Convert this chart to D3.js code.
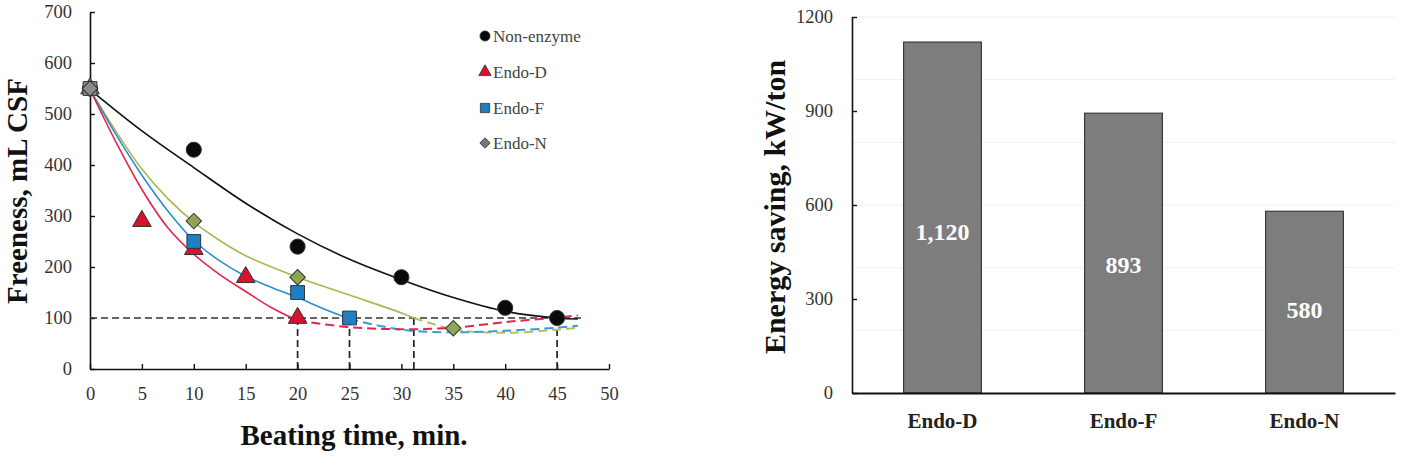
<!DOCTYPE html>
<html>
<head>
<meta charset="utf-8">
<script src="https://cdn.jsdelivr.net/npm/d3@7"></script>
<style>
  body { margin: 0; background: #fff; }
  svg text { font-family: "Liberation Serif", "Times New Roman", serif; }
</style>
</head>
<body>
<div id="chart"></div>
<script>
// freeness data (mL CSF) vs beating time (min)
var nonEnzymeTime = [0, 10, 20, 30, 40, 45],
  nonEnzymeFree = [550, 430, 240, 180, 120, 100];
var endoDTime = [0, 5, 10, 15, 20],
  endoDFree = [550, 290, 235, 180, 100];
var endoFTime = [0, 10, 20, 25],
  endoFFree = [550, 250, 150, 100];
var endoNTime = [0, 10, 20, 35],
  endoNFree = [550, 290, 180, 80];

// trend lines: [time, freeness]
var nonEnzymeFit = [[0, 548], [5, 467], [10, 395], [15, 325], [20, 265], [25, 215], [30, 175], [35, 140], [40, 113], [45, 100], [47, 98]];
var endoDFit = [[0, 548], [2.5, 445], [5, 352], [7.5, 277], [10, 225], [12.5, 185], [15, 152], [17.5, 120], [20, 95]];
var endoDFitDash = [[20, 95], [25, 82], [30, 78], [35, 81], [40, 92], [45, 101], [47, 105]];
var endoFFit = [[0, 548], [2.5, 460], [5, 380], [7.5, 310], [10, 252], [12.5, 212], [15, 182], [17.5, 160], [20, 140], [22.5, 118], [25, 98]];
var endoFFitDash = [[25, 98], [30, 77], [35, 72], [40, 75], [45, 81], [47, 85]];
var endoNFit = [[0, 548], [2.5, 466], [5, 392], [7.5, 334], [10, 288], [12.5, 252], [15, 222], [20, 180], [25, 145], [30, 110], [31.2, 100]];
var endoNFitDash = [[31.2, 100], [35, 78], [40, 71], [45, 77], [47, 81]];

var targetFree = 100;
var targetTimes = [20, 25, 31.2, 45];

// energy saving (kW/ton)
var energyCats = ["Endo-D", "Endo-F", "Endo-N"],
  energyVals = [1120, 893, 580];

var width = 1402,
  height = 456;

var serif = "Liberation Serif";

var svg = d3.select("#chart")
  .append("svg")
  .attr("width", width)
  .attr("height", height)
  .attr("font-family", serif)

// ---------- left: freeness ----------
var x = d3.scaleLinear().domain([0, 50]).range([90, 609])
var y = d3.scaleLinear().domain([0, 700]).range([369, 12])

var left = svg.append("g")

left.append("g")
  .attr("transform", "translate(0," + y(0) + ")")
  .call(d3.axisBottom(x).tickValues(d3.range(0, 51, 5)).tickSizeInner(-5).tickSizeOuter(0).tickPadding(18))
  .call(styleAxis)

left.append("g")
  .attr("transform", "translate(" + x(0) + ",0)")
  .call(d3.axisLeft(y).tickValues(d3.range(0, 701, 100)).tickSizeInner(-5).tickSizeOuter(0).tickPadding(18))
  .call(styleAxis)

function styleAxis(g) {
  g.attr("font-family", serif)
  g.select(".domain").attr("stroke", "#111").attr("stroke-width", 1.6)
  g.selectAll(".tick line").attr("stroke", "#111").attr("stroke-width", 1.4)
  g.selectAll(".tick text").attr("font-size", 18.5).attr("fill", "#333")
    .attr("font-family", serif)
}

// target freeness guide lines
left.append("line")
  .attr("x1", x(0)).attr("x2", x(47.4))
  .attr("y1", y(targetFree)).attr("y2", y(targetFree))
  .attr("stroke", "#333").attr("stroke-width", 1.7).attr("stroke-dasharray", "7,4")

left.selectAll(".guide")
  .data(targetTimes)
  .enter().append("line")
  .attr("class", "guide")
  .attr("x1", function(d) { return x(d) }).attr("x2", function(d) { return x(d) })
  .attr("y1", y(targetFree)).attr("y2", y(0))
  .attr("stroke", "#222").attr("stroke-width", 1.7).attr("stroke-dasharray", "7,4")

var line = d3.line()
  .x(function(d) { return x(d[0]) })
  .y(function(d) { return y(d[1]) })
  .curve(d3.curveCatmullRom.alpha(0.5))

var fits = [
  { pts: endoNFit, color: "#a9b756", dash: null },
  { pts: endoNFitDash, color: "#b5c060", dash: "9,5" },
  { pts: endoFFit, color: "#2b8fcf", dash: null },
  { pts: endoFFitDash, color: "#3a9ad6", dash: "9,5" },
  { pts: endoDFit, color: "#e3244e", dash: null },
  { pts: endoDFitDash, color: "#e3244e", dash: "9,5" },
  { pts: nonEnzymeFit, color: "#111", dash: null }
]

left.selectAll(".fit")
  .data(fits)
  .enter().append("path")
  .attr("class", "fit")
  .attr("d", function(d) { return line(d.pts) })
  .attr("fill", "none")
  .attr("stroke", function(d) { return d.color })
  .attr("stroke-width", function(d) { return d.dash ? 2 : 1.6 })
  .attr("stroke-dasharray", function(d) { return d.dash })

var series = [
  { name: "Non-enzyme", t: nonEnzymeTime, v: nonEnzymeFree, symbol: d3.symbolCircle, size: 180, rot: 0, fill: "#0a0a0a" },
  { name: "Endo-D", t: endoDTime, v: endoDFree, symbol: d3.symbolTriangle, size: 150, rot: 0, fill: "#d8112e" },
  { name: "Endo-F", t: endoFTime, v: endoFFree, symbol: d3.symbolSquare, size: 190, rot: 0, fill: "#1f7fc4" },
  { name: "Endo-N", t: endoNTime, v: endoNFree, symbol: d3.symbolSquare, size: 120, rot: 45, fill: "#8fa656" }
]

series.forEach(function(s) {
  left.selectAll(".pt-" + s.name)
    .data(s.t)
    .enter().append("path")
    .attr("d", d3.symbol().type(s.symbol).size(s.size))
    .attr("transform", function(d, i) {
      return "translate(" + x(d) + "," + y(s.v[i]) + ") rotate(" + s.rot + ")"
    })
    .attr("fill", function(d) { return d === 0 ? "#8a8a8a" : s.fill })
    .attr("stroke", "#333")
    .attr("stroke-width", 1)
})

// legend
var legend = left.selectAll(".legend")
  .data(series)
  .enter().append("g")
  .attr("class", "legend")
  .attr("transform", function(d, i) { return "translate(485," + [36, 72, 108, 143][i] + ")" })

legend.append("path")
  .attr("d", function(d) { return d3.symbol().type(d.symbol).size(d.size * 0.45)() })
  .attr("transform", function(d) { return "rotate(" + d.rot + ")" })
  .attr("fill", function(d) { return d.name == "Endo-N" ? "#777" : d.fill })
  .attr("stroke", "#333")
  .attr("stroke-width", 0.8)

legend.append("text")
  .attr("x", 8)
  .attr("dy", "0.35em")
  .attr("font-family", serif)
  .attr("font-size", 17)
  .attr("fill", "#444")
  .text(function(d) { return d.name })

left.append("text")
  .attr("transform", "translate(27,191) rotate(-90)")
  .attr("text-anchor", "middle")
  .attr("font-family", serif)
  .attr("font-size", 29)
  .attr("font-weight", "bold")
  .attr("fill", "#111")
  .text("Freeness, mL CSF")

left.append("text")
  .attr("x", 354)
  .attr("y", 445)
  .attr("text-anchor", "middle")
  .attr("font-family", serif)
  .attr("font-size", 29)
  .attr("font-weight", "bold")
  .attr("fill", "#111")
  .text("Beating time, min.")

// ---------- right: energy saving ----------
var xb = d3.scaleBand().domain(energyCats).range([852, 1395]).paddingInner(0.57).paddingOuter(0.285)
var yb = d3.scaleLinear().domain([0, 1200]).range([393, 17])

var right = svg.append("g")

right.selectAll(".grid")
  .data(yb.ticks(4).filter(function(d) { return d > 0 }))
  .enter().append("line")
  .attr("x1", 852).attr("x2", 1395)
  .attr("y1", function(d) { return yb(d) }).attr("y2", function(d) { return yb(d) })
  .attr("stroke", "#f1f1f1")

right.selectAll(".bar")
  .data(energyVals)
  .enter().append("rect")
  .attr("class", "bar")
  .attr("x", function(d, i) { return xb(energyCats[i]) })
  .attr("width", xb.bandwidth())
  .attr("y", function(d) { return yb(d) })
  .attr("height", function(d) { return yb(0) - yb(d) })
  .attr("fill", "#7d7d7d")
  .attr("stroke", "#3a3a3a")
  .attr("stroke-width", 1.2)

right.selectAll(".bar-label")
  .data(energyVals)
  .enter().append("text")
  .attr("x", function(d, i) { return xb(energyCats[i]) + xb.bandwidth() / 2 })
  .attr("y", function(d) { return yb(d * 0.46) })
  .attr("dy", "0.35em")
  .attr("text-anchor", "middle")
  .attr("font-family", serif)
  .attr("font-size", 24)
  .attr("font-weight", "bold")
  .attr("fill", "#fff")
  .text(function(d) { return d3.format(",")(d) })

right.append("g")
  .attr("transform", "translate(0," + yb(0) + ")")
  .call(d3.axisBottom(xb).tickSize(0).tickPadding(20))
  .call(function(g) {
    g.attr("font-family", serif)
    g.select(".domain").attr("stroke", "#111").attr("stroke-width", 1.8)
    g.selectAll(".tick text").attr("font-size", 21).attr("font-weight", "bold").attr("fill", "#222")
      .attr("font-family", serif)
  })

right.append("g")
  .attr("transform", "translate(852,0)")
  .call(d3.axisLeft(yb).tickValues(d3.range(0, 1201, 300)).tickFormat(d3.format("d")).tickSizeInner(-5).tickSizeOuter(0).tickPadding(19))
  .call(styleAxis)

right.append("text")
  .attr("transform", "translate(785,207) rotate(-90)")
  .attr("text-anchor", "middle")
  .attr("font-family", serif)
  .attr("font-size", 30)
  .attr("font-weight", "bold")
  .attr("fill", "#111")
  .text("Energy saving, kW/ton")
</script>
</body>
</html>
